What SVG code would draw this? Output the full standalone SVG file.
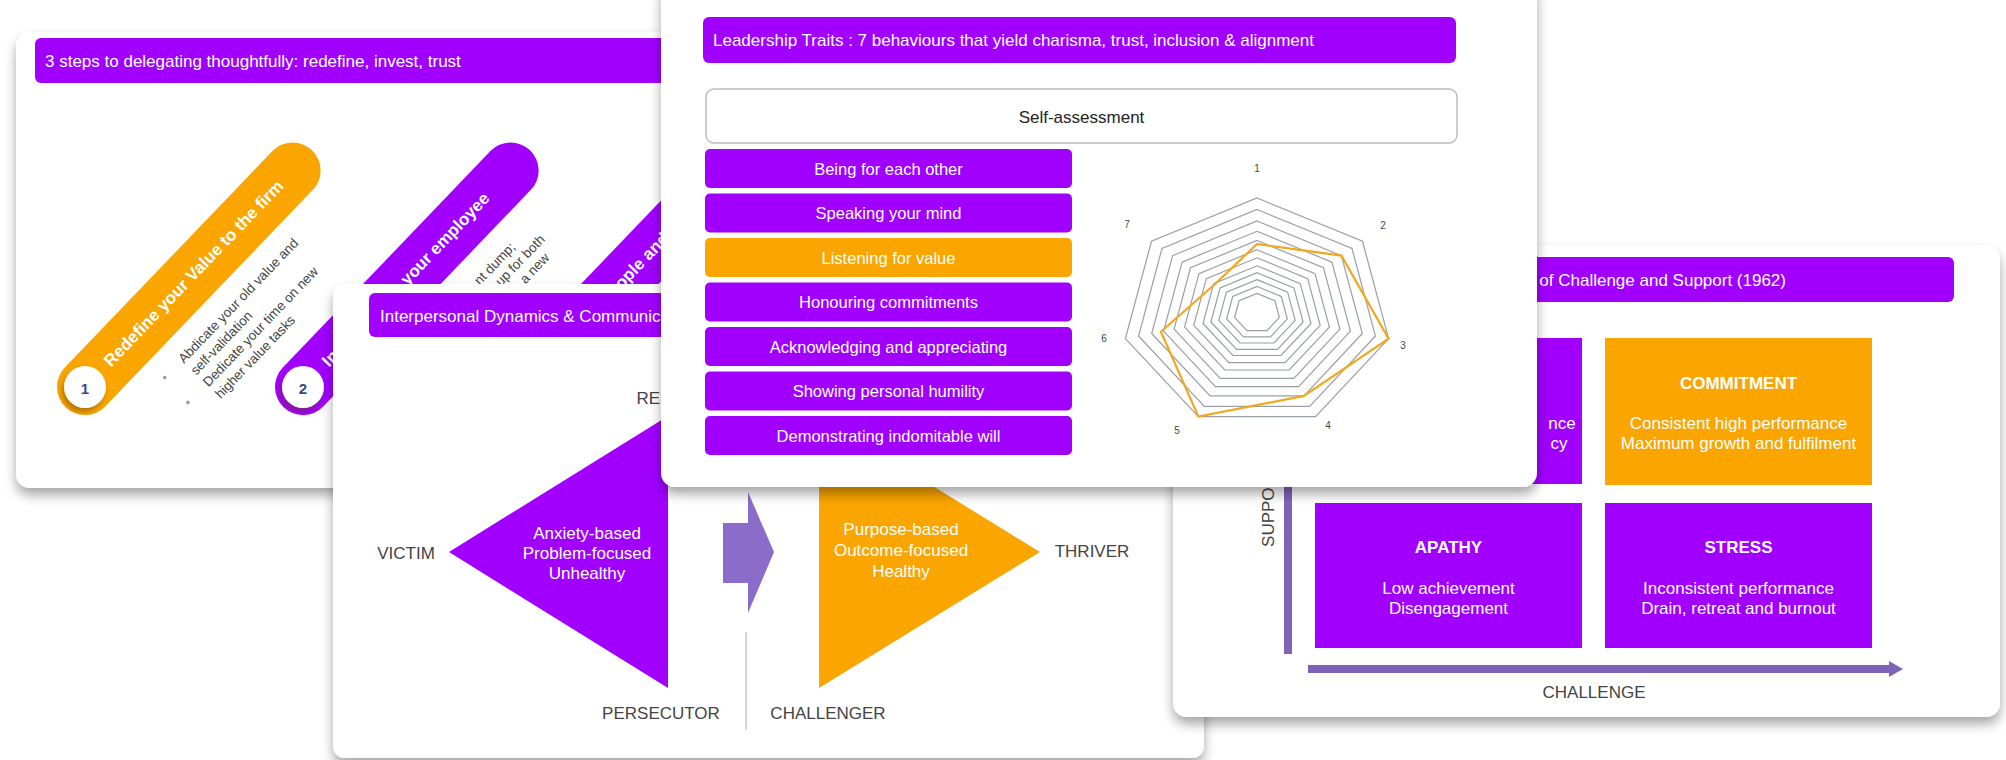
<svg xmlns="http://www.w3.org/2000/svg" width="2006" height="760" viewBox="0 0 2006 760">
<defs>
<filter id="sh" x="-10%" y="-10%" width="120%" height="130%"><feDropShadow dx="0" dy="7" stdDeviation="6" flood-color="#000" flood-opacity="0.35"/></filter>
<filter id="cs" x="-50%" y="-50%" width="200%" height="200%"><feDropShadow dx="-2" dy="4" stdDeviation="2.5" flood-color="#5a3a00" flood-opacity="0.45"/></filter>
<style>
text{font-family:"Liberation Sans",Arial,sans-serif}
.card{fill:#fff;filter:url(#sh)}
.bar{fill:#A100FF}
.ttl{fill:#fff;font-size:17px;dominant-baseline:central}
.pill{fill:#fff;font-size:17px;font-weight:bold;dominant-baseline:central}
.bul{fill:#444;font-size:13.5px;dominant-baseline:central}
.dot{fill:#999}
.num{fill:#2E4A8E;font-size:15px;font-weight:bold;text-anchor:middle;dominant-baseline:central}
.item{fill:#fff;font-size:16.5px;text-anchor:middle;dominant-baseline:central}
.lbl{fill:#444;font-size:17px;text-anchor:middle;dominant-baseline:central}
.wt{fill:#fff;font-size:17px;text-anchor:middle;dominant-baseline:central}
.qt{fill:#fff;font-size:17px;text-anchor:middle;dominant-baseline:central}
.qh{fill:#fff;font-size:17px;font-weight:bold;text-anchor:middle;dominant-baseline:central}
.ring{fill:none;stroke:#9a9ea6;stroke-width:1.2}
.rl{fill:#444;font-size:10px;text-anchor:middle;dominant-baseline:central}
.pur{fill:#A100FF}
.org{fill:#FAA500}
</style>
</defs>
<rect width="2006" height="760" fill="#fff"/>

<g id="card-delegating">
<rect class="card" x="16" y="32" width="690" height="456" rx="14"/>
<rect class="bar" x="35" y="38" width="660" height="45" rx="6"/>
<text class="ttl" x="45" y="61">3 steps to delegating thoughtfully: redefine, invest, trust</text>
<g id="step1" transform="translate(85 387) rotate(-46.2)">
<rect x="-28" y="-28" width="356" height="56" rx="28" class="org"/>
<text class="pill" x="32" y="0">Redefine your Value to the firm</text>
<circle class="dot" cx="62" cy="51" r="1.8"/>
<circle class="dot" cx="60" cy="85" r="1.8"/>
<text class="bul" x="85" y="51">Abdicate your old value and</text>
<text class="bul" x="85" y="68">self-validation</text>
<text class="bul" x="85" y="85">Dedicate your time on new</text>
<text class="bul" x="85" y="102">higher value tasks</text>
</g>
<g id="step2" transform="translate(303 387) rotate(-46.2)">
<rect x="-28" y="-28" width="356" height="56" rx="28" class="pur"/>
<text class="pill" x="32" y="0">Invest time in your employee</text>
<text class="bul" x="248" y="53" text-anchor="end">nt dump;</text>
<text class="bul" x="274" y="69" text-anchor="end">up for both</text>
<text class="bul" x="264" y="85" text-anchor="end">a new</text>
</g>
<g id="step3" transform="translate(521 387) rotate(-46.2)">
<rect x="-28" y="-28" width="356" height="56" rx="28" class="pur"/>
<text class="pill" x="32" y="0">Trust your people and</text>
</g>
<circle cx="85" cy="387" r="21" fill="#fff" filter="url(#cs)"/>
<text class="num" x="85" y="388">1</text>
<circle cx="303" cy="387" r="21" fill="#fff" filter="url(#cs)"/>
<text class="num" x="303" y="388">2</text>
</g>

<g id="card-interpersonal">
<rect class="card" x="333" y="284" width="871" height="474" rx="12"/>
<rect class="bar" x="369" y="293" width="800" height="44" rx="6"/>
<text class="ttl" x="380" y="316">Interpersonal Dynamics &amp; Communication</text>
<polygon class="pur" points="668,416 668,688 449,552"/>
<polygon class="org" points="819,416 819,688 1040,552"/>
<line x1="746" y1="632" x2="746" y2="730" stroke="#c8c8c8" stroke-width="1.5"/>
<text class="lbl" x="678" y="398">RESCUER</text>
<text class="lbl" x="406" y="553">VICTIM</text>
<text class="lbl" x="1092" y="551">THRIVER</text>
<text class="lbl" x="661" y="713">PERSECUTOR</text>
<text class="lbl" x="828" y="713">CHALLENGER</text>
<text class="wt" x="587" y="533">Anxiety-based</text>
<text class="wt" x="587" y="553">Problem-focused</text>
<text class="wt" x="587" y="573">Unhealthy</text>
<text class="wt" x="901" y="529">Purpose-based</text>
<text class="wt" x="901" y="550">Outcome-focused</text>
<text class="wt" x="901" y="571">Healthy</text>
</g>

<g id="card-challenge">
<rect class="card" x="1173" y="245" width="827" height="472" rx="14"/>
<rect class="bar" x="1209" y="257" width="745" height="45" rx="6"/>
<text class="ttl" x="1786" y="280" text-anchor="end">of Challenge and Support (1962)</text>
<rect class="pur" x="1315" y="338" width="267" height="146"/>
<text class="qt" x="1562" y="423" text-anchor="end">nce</text>
<text class="qt" x="1559" y="443" text-anchor="end">cy</text>
<rect class="org" x="1605" y="338" width="267" height="147"/>
<text class="qh" x="1738.5" y="383">COMMITMENT</text>
<text class="qt" x="1738.5" y="423">Consistent high performance</text>
<text class="qt" x="1738.5" y="443">Maximum growth and fulfilment</text>
<rect class="pur" x="1315" y="503" width="267" height="145"/>
<text class="qh" x="1448.5" y="547">APATHY</text>
<text class="qt" x="1448.5" y="588">Low achievement</text>
<text class="qt" x="1448.5" y="608">Disengagement</text>
<rect class="pur" x="1605" y="503" width="267" height="145"/>
<text class="qh" x="1738.5" y="547">STRESS</text>
<text class="qt" x="1738.5" y="588">Inconsistent performance</text>
<text class="qt" x="1738.5" y="608">Drain, retreat and burnout</text>
<text class="lbl" x="1594" y="692">CHALLENGE</text>
<text class="lbl" transform="translate(1268 506) rotate(-90)" x="0" y="0">SUPPORT</text>
</g>

<g id="connectors">
<polygon fill="#8C6CCB" points="723,523 748,523 748,492 774,552 748,613 748,583 723,583"/>
<rect x="1284" y="400" width="8" height="254" fill="#7F63B8"/>
<rect x="1308" y="665" width="584" height="8" fill="#7F63B8"/>
<polygon fill="#7F63B8" points="1889,661 1903,669 1889,677"/>
</g>

<g id="card-leadership">
<rect class="card" x="661" y="-20" width="876" height="507" rx="14"/>
<rect class="bar" x="703" y="17" width="753" height="46" rx="6"/>
<text class="ttl" x="713" y="40">Leadership Traits : 7 behaviours that yield charisma, trust, inclusion &amp; alignment</text>
<rect x="706" y="89" width="751" height="54" rx="8" fill="#fff" stroke="#bdbdbd" stroke-width="1.5"/>
<text class="lbl" x="1081.5" y="117" style="fill:#222">Self-assessment</text>
<g id="traits">
<rect class="pur" x="705" y="149" width="367" height="39" rx="5"/>
<text class="item" x="888.5" y="169">Being for each other</text>
<rect class="pur" x="705" y="193.5" width="367" height="39" rx="5"/>
<text class="item" x="888.5" y="213">Speaking your mind</text>
<rect class="org" x="705" y="238" width="367" height="39" rx="5"/>
<text class="item" x="888.5" y="258">Listening for value</text>
<rect class="pur" x="705" y="282.5" width="367" height="39" rx="5"/>
<text class="item" x="888.5" y="302">Honouring commitments</text>
<rect class="pur" x="705" y="327" width="367" height="39" rx="5"/>
<text class="item" x="888.5" y="347">Acknowledging and appreciating</text>
<rect class="pur" x="705" y="371.5" width="367" height="39" rx="5"/>
<text class="item" x="888.5" y="391">Showing personal humility</text>
<rect class="pur" x="705" y="416" width="367" height="39" rx="5"/>
<text class="item" x="888.5" y="436">Demonstrating indomitable will</text>
</g>
<g id="radar">
<polygon class="ring" points="1257,198 1362.5,241.3 1388.6,338.6 1315.6,416.6 1198.4,416.6 1125.4,338.6 1151.5,241.3"/>
<polygon class="ring" points="1257,209.5 1352,248.5 1375.4,336 1309.7,406.3 1204.3,406.3 1138.6,336 1162,248.5"/>
<polygon class="ring" points="1257,221 1341.4,255.6 1362.3,333.5 1303.9,395.9 1210.1,395.9 1151.7,333.5 1172.6,255.6"/>
<polygon class="ring" points="1257,231.3 1331.9,262.1 1350.4,331.2 1298.6,386.6 1215.4,386.6 1163.6,331.2 1182.1,262.1"/>
<polygon class="ring" points="1257,240.5 1323.5,267.8 1339.9,329.1 1293.9,378.3 1220.1,378.3 1174.1,329.1 1190.5,267.8"/>
<polygon class="ring" points="1257,249.7 1315,273.6 1329.4,327.1 1289.2,370 1224.8,370 1184.6,327.1 1199,273.6"/>
<polygon class="ring" points="1257,257.8 1307.7,278.6 1320.2,325.3 1285.1,362.7 1228.9,362.7 1193.8,325.3 1206.3,278.6"/>
<polygon class="ring" points="1257,265.8 1300.3,283.6 1311,323.5 1281,355.5 1233,355.5 1203,323.5 1213.7,283.6"/>
<polygon class="ring" points="1257,272.7 1293.9,287.9 1303.1,322 1277.5,349.3 1236.5,349.3 1210.9,322 1220.1,287.9"/>
<polygon class="ring" points="1257,279.6 1287.6,292.2 1295.2,320.4 1274,343 1240,343 1218.8,320.4 1226.4,292.2"/>
<polygon class="ring" points="1257,286.5 1281.3,296.5 1287.3,318.9 1270.5,336.8 1243.5,336.8 1226.7,318.9 1232.7,296.5"/>
<polygon class="ring" points="1257,293.4 1274.9,300.8 1279.4,317.4 1267,330.6 1247,330.6 1234.6,317.4 1239.1,300.8"/>
<polygon fill="none" stroke="#F2A81D" stroke-width="2.2" points="1257,244 1341.4,255.6 1388.6,338.6 1303.9,395.9 1198.4,416.6 1160.9,331.7 1214.8,284.3"/>
<text class="rl" x="1257" y="168">1</text>
<text class="rl" x="1383" y="225">2</text>
<text class="rl" x="1403" y="345">3</text>
<text class="rl" x="1328" y="425">4</text>
<text class="rl" x="1177" y="430">5</text>
<text class="rl" x="1104" y="338">6</text>
<text class="rl" x="1127" y="224">7</text>
</g>
</g>
</svg>
